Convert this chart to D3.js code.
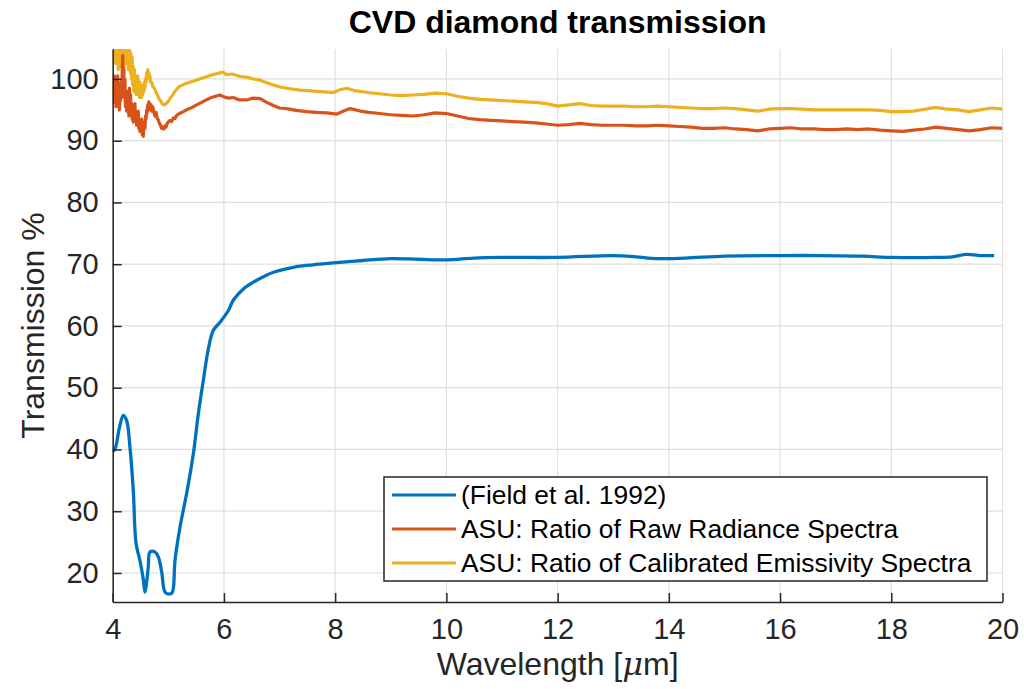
<!DOCTYPE html>
<html>
<head>
<meta charset="utf-8">
<script src="https://cdn.jsdelivr.net/npm/d3@7"></script>
<style>
  body { margin: 0; background: #fff; }
  svg { display: block; font-family: "Liberation Sans", Arial, Helvetica, sans-serif; }
</style>
</head>
<body>
<svg id="chart" width="1024" height="689"></svg>
<script>
// Field et al. 1992 curve
var fieldWl = [4.0, 4.05, 4.12, 4.19, 4.25, 4.31, 4.37, 4.42, 4.49, 4.55, 4.58, 4.61, 4.64, 4.67, 4.76, 4.82, 4.88, 4.94, 5.0, 5.06, 5.09, 5.12, 5.21, 5.33, 5.45, 5.54, 5.63, 5.72, 5.81, 5.93, 6.08, 6.17, 6.35, 6.59, 6.89, 7.25, 7.6, 7.97, 8.5, 9.0, 9.5, 10.0, 10.5, 11.0, 12.0, 13.0, 13.4, 13.8, 14.3, 15.0, 16.0, 16.7, 17.5, 18.0, 18.8, 19.1, 19.35, 19.6, 19.85];
var fieldT = [39.6, 40.3, 43.5, 45.5, 44.7, 40.4, 33.4, 24.8, 22.0, 19.0, 16.9, 18.5, 21.0, 23.4, 23.4, 22.6, 20.2, 16.9, 16.6, 16.7, 17.5, 22.0, 27.4, 32.9, 39.3, 45.8, 51.2, 56.3, 59.3, 60.6, 62.5, 64.2, 66.0, 67.4, 68.7, 69.5, 69.9, 70.2, 70.6, 70.9, 70.8, 70.7, 71.0, 71.1, 71.1, 71.4, 71.2, 70.9, 71.0, 71.3, 71.4, 71.4, 71.3, 71.1, 71.1, 71.2, 71.6, 71.4, 71.4];

// ASU: ratio of raw radiance spectra
var rawWl = [4.00, 4.01, 4.02, 4.03, 4.04, 4.05, 4.06, 4.07, 4.08, 4.09, 4.10, 4.11, 4.12, 4.13, 4.14, 4.15, 4.16, 4.17, 4.18, 4.19, 4.20, 4.21, 4.22, 4.23, 4.24, 4.25, 4.26, 4.27, 4.28, 4.29, 4.30, 4.31, 4.32, 4.33, 4.34, 4.35, 4.36, 4.37, 4.38, 4.39, 4.40, 4.41, 4.42, 4.43, 4.44, 4.45, 4.46, 4.47, 4.48, 4.49, 4.50, 4.51, 4.52, 4.53, 4.54, 4.55, 4.56, 4.57, 4.58, 4.59, 4.60, 4.61, 4.62, 4.63, 4.64, 4.65, 4.66, 4.67, 4.68, 4.69, 4.70, 4.72, 4.74, 4.76, 4.78, 4.80, 4.82, 4.84, 4.86, 4.88, 4.90, 4.92, 4.94, 4.96, 4.98, 5.00, 5.03, 5.06, 5.09, 5.12, 5.15, 5.2, 5.27, 5.35, 5.43, 5.51, 5.6, 5.68, 5.75, 5.85, 5.93, 6.0, 6.08, 6.17, 6.28, 6.41, 6.52, 6.65, 6.77, 6.89, 7.0, 7.13, 7.3, 7.49, 7.65, 7.85, 8.03, 8.15, 8.27, 8.45, 8.6, 8.8, 9.0, 9.2, 9.4, 9.6, 9.8, 10.0, 10.2, 10.4, 10.6, 10.8, 11.0, 11.2, 11.4, 11.6, 11.8, 12.0, 12.2, 12.4, 12.6, 12.8, 13.0, 13.2, 13.4, 13.6, 13.8, 14.0, 14.2, 14.4, 14.6, 14.8, 15.0, 15.2, 15.4, 15.6, 15.8, 16.0, 16.2, 16.4, 16.6, 16.8, 17.0, 17.2, 17.4, 17.6, 17.8, 18.0, 18.2, 18.4, 18.6, 18.8, 19.0, 19.2, 19.4, 19.6, 19.8, 20.0];
var rawT = [96.0, 99.5, 97.5, 100.5, 96.5, 99.0, 95.5, 98.5, 97.0, 100.5, 96.0, 98.0, 95.0, 97.5, 96.5, 99.5, 97.0, 101.0, 103.8, 99.0, 101.5, 97.0, 100.0, 95.5, 97.5, 94.8, 98.0, 95.5, 97.0, 94.0, 98.5, 96.0, 97.5, 94.5, 96.0, 93.5, 95.5, 93.0, 95.0, 94.0, 96.0, 93.5, 94.5, 92.5, 94.0, 93.0, 94.8, 92.0, 93.5, 91.5, 93.0, 92.0, 93.5, 91.0, 92.0, 90.7, 92.5, 93.0, 92.0, 94.0, 93.5, 95.0, 94.5, 95.8, 95.0, 96.3, 95.5, 96.0, 95.0, 95.8, 94.8, 95.5, 94.6, 94.0, 94.6, 93.6, 93.4, 92.8, 92.5, 92.0, 92.2, 91.9, 92.4, 92.2, 92.8, 93.0, 93.3, 93.1, 93.7, 93.6, 94.1, 94.4, 94.7, 95.1, 95.4, 95.8, 96.2, 96.6, 96.9, 97.2, 97.4, 97.1, 96.9, 97.0, 96.6, 96.6, 96.9, 96.8, 96.2, 95.7, 95.3, 95.2, 94.9, 94.7, 94.6, 94.5, 94.3, 94.8, 95.2, 94.8, 94.6, 94.4, 94.2, 94.1, 94.0, 94.2, 94.5, 94.4, 94.0, 93.6, 93.4, 93.3, 93.2, 93.1, 93.0, 92.9, 92.7, 92.5, 92.6, 92.8, 92.6, 92.5, 92.5, 92.5, 92.4, 92.4, 92.5, 92.4, 92.3, 92.2, 92.0, 92.0, 92.1, 91.9, 91.8, 91.6, 91.9, 92.0, 92.1, 91.9, 91.9, 91.8, 91.8, 91.9, 91.8, 91.9, 91.7, 91.6, 91.5, 91.7, 91.9, 92.2, 92.0, 91.8, 91.6, 91.8, 92.1, 92.0];

// ASU: ratio of calibrated emissivity spectra
var calWl = [4.00, 4.01, 4.02, 4.03, 4.04, 4.05, 4.06, 4.07, 4.08, 4.09, 4.10, 4.11, 4.12, 4.13, 4.14, 4.15, 4.16, 4.17, 4.18, 4.19, 4.20, 4.21, 4.22, 4.23, 4.24, 4.25, 4.26, 4.27, 4.28, 4.29, 4.30, 4.31, 4.32, 4.33, 4.34, 4.35, 4.36, 4.37, 4.38, 4.39, 4.40, 4.41, 4.42, 4.43, 4.44, 4.45, 4.46, 4.47, 4.48, 4.49, 4.50, 4.51, 4.52, 4.53, 4.54, 4.55, 4.56, 4.57, 4.58, 4.59, 4.60, 4.61, 4.62, 4.63, 4.64, 4.65, 4.66, 4.67, 4.68, 4.70, 4.72, 4.75, 4.78, 4.80, 4.83, 4.86, 4.89, 4.92, 4.95, 4.98, 5.01, 5.04, 5.08, 5.12, 5.2, 5.3, 5.4, 5.5, 5.6, 5.7, 5.8, 5.9, 5.98, 6.05, 6.15, 6.29, 6.4, 6.53, 6.65, 6.77, 6.9, 7.01, 7.2, 7.37, 7.52, 7.67, 7.82, 7.97, 8.1, 8.21, 8.35, 8.45, 8.6, 8.8, 9.0, 9.2, 9.4, 9.6, 9.8, 10.0, 10.2, 10.4, 10.6, 10.8, 11.0, 11.2, 11.4, 11.6, 11.8, 12.0, 12.2, 12.4, 12.6, 12.8, 13.0, 13.2, 13.4, 13.6, 13.8, 14.0, 14.2, 14.4, 14.6, 14.8, 15.0, 15.2, 15.4, 15.6, 15.8, 16.0, 16.2, 16.4, 16.6, 16.8, 17.0, 17.2, 17.4, 17.6, 17.8, 18.0, 18.2, 18.4, 18.6, 18.8, 19.0, 19.2, 19.4, 19.6, 19.8, 20.0];
var calT = [102.5, 105.5, 103.5, 106, 104, 106, 102.5, 105.5, 103.5, 106, 101.5, 105, 103, 106, 102, 105.5, 103.5, 106, 104, 106, 101, 105, 103, 106, 102.5, 105.5, 103, 106, 101.5, 105, 102.5, 104.5, 101, 104, 100, 103.5, 99, 102, 98, 101.5, 98.5, 100.5, 97.5, 100, 98.5, 100.5, 97.5, 99.5, 97, 99.5, 98, 99, 97, 98.5, 97.5, 99, 98, 99.5, 98.5, 100, 99.5, 101, 100, 101.5, 100.5, 101, 100, 100.5, 99.5, 99.5, 98.8, 98.5, 97.8, 97.5, 96.8, 96.5, 96.0, 95.8, 95.9, 96.2, 96.5, 97.0, 97.4, 98.0, 98.8, 99.2, 99.5, 99.8, 100.1, 100.4, 100.7, 100.9, 101.1, 100.7, 100.8, 100.4, 100.3, 100.0, 99.8, 99.4, 99.0, 98.7, 98.4, 98.2, 98.1, 98.0, 97.9, 97.8, 98.3, 98.5, 98.1, 98.0, 97.8, 97.6, 97.4, 97.3, 97.4, 97.5, 97.7, 97.6, 97.2, 96.9, 96.7, 96.6, 96.5, 96.4, 96.3, 96.2, 96.0, 95.6, 95.8, 96.0, 95.7, 95.6, 95.6, 95.6, 95.5, 95.5, 95.6, 95.5, 95.4, 95.3, 95.2, 95.2, 95.3, 95.2, 95.0, 94.8, 95.1, 95.2, 95.2, 95.1, 95.0, 95.0, 95.0, 95.0, 95.0, 95.0, 94.9, 94.7, 94.7, 94.8, 95.1, 95.4, 95.1, 95.0, 94.7, 95.0, 95.3, 95.1];

var xTicks = [4, 6, 8, 10, 12, 14, 16, 18, 20];
var yTicks = [20, 30, 40, 50, 60, 70, 80, 90, 100];
var seriesNames = ["(Field et al. 1992)", "ASU: Ratio of Raw Radiance Spectra", "ASU: Ratio of Calibrated Emissivity Spectra"];
var seriesColors = ["#0072BD", "#D95319", "#EDB120"];

(function () {
  var svg = d3.select("#chart");
  var m = { left: 112.7, right: 1002.5, top: 49, bottom: 602 };
  var ink = "#262626";

  var x = d3.scaleLinear().domain([4, 20]).range([m.left, m.right]);
  var y = d3.scaleLinear().domain([15.3, 104.85]).range([m.bottom, m.top]);

  svg.append("rect").attr("width", 1024).attr("height", 689).attr("fill", "#fff");

  svg.append("defs").append("clipPath").attr("id", "plotclip")
    .append("rect")
    .attr("x", m.left).attr("y", m.top)
    .attr("width", m.right - m.left).attr("height", m.bottom - m.top);

  // grid
  var grid = svg.append("g").attr("class", "grid");
  grid.selectAll(".gx").data(xTicks).enter().append("line")
    .attr("x1", d => x(d)).attr("x2", d => x(d))
    .attr("y1", m.top).attr("y2", m.bottom)
    .attr("stroke", "#dfdfdf").attr("stroke-width", 1.2);
  grid.selectAll(".gy").data(yTicks).enter().append("line")
    .attr("x1", m.left).attr("x2", m.right)
    .attr("y1", d => y(d)).attr("y2", d => y(d))
    .attr("stroke", "#dfdfdf").attr("stroke-width", 1.2);

  // lines
  var series = [
    { wl: calWl, t: calT, color: seriesColors[2], w: 3.2, curve: d3.curveLinear },
    { wl: rawWl, t: rawT, color: seriesColors[1], w: 3.2, curve: d3.curveLinear },
    { wl: fieldWl, t: fieldT, color: seriesColors[0], w: 3.3, curve: d3.curveCatmullRom }
  ];

  var plot = svg.append("g").attr("clip-path", "url(#plotclip)");
  series.forEach(function (s) {
    var pts = s.wl.map((w, i) => [w, s.t[i]]);
    var line = d3.line().x(d => x(d[0])).y(d => y(d[1])).curve(s.curve);
    plot.append("path")
      .datum(pts)
      .attr("fill", "none")
      .attr("stroke", s.color)
      .attr("stroke-width", s.w)
      .attr("stroke-linejoin", "round")
      .attr("d", line);
  });

  // axes
  var xAxis = svg.append("g")
    .attr("transform", `translate(0,${m.bottom})`)
    .call(d3.axisBottom(x).tickValues(xTicks).tickSizeInner(-9).tickSizeOuter(0).tickPadding(16));
  var yAxis = svg.append("g")
    .attr("transform", `translate(${m.left},0)`)
    .call(d3.axisLeft(y).tickValues(yTicks).tickSizeInner(-9).tickSizeOuter(0).tickPadding(14));

  [xAxis, yAxis].forEach(function (g) {
    g.select(".domain").attr("stroke", ink).attr("stroke-width", 1.5);
    g.selectAll(".tick line").attr("stroke", ink).attr("stroke-width", 1.5);
    g.selectAll(".tick text")
      .attr("fill", ink)
      .style("font-size", "29px")
      .style("font-family", "'Liberation Sans', Arial, sans-serif");
  });

  // title and labels
  svg.append("text")
    .attr("x", (m.left + m.right) / 2).attr("y", 33)
    .attr("text-anchor", "middle")
    .attr("font-weight", "bold")
    .attr("font-size", 32)
    .attr("fill", "#000")
    .text("CVD diamond transmission");

  var xl = svg.append("text")
    .attr("x", (m.left + m.right) / 2).attr("y", 675)
    .attr("text-anchor", "middle")
    .attr("font-size", 32)
    .attr("fill", ink);
  xl.append("tspan").text("Wavelength [");
  xl.append("tspan").attr("font-style", "italic").attr("font-family", "'DejaVu Serif', serif").text("\u03bc");
  xl.append("tspan").text("m]");

  svg.append("text")
    .attr("transform", `translate(44,${(m.top + m.bottom) / 2}) rotate(-90)`)
    .attr("text-anchor", "middle")
    .attr("font-size", 32)
    .attr("fill", ink)
    .text("Transmission %");

  // legend
  var lg = svg.append("g").attr("transform", "translate(384,477)");
  lg.append("rect")
    .attr("width", 603).attr("height", 104)
    .attr("fill", "#fff")
    .attr("stroke", ink).attr("stroke-width", 1.5);

  var rows = lg.selectAll(".row").data(seriesNames).enter().append("g")
    .attr("transform", (d, i) => `translate(0,${18 + i * 34})`);
  rows.append("line")
    .attr("x1", 8).attr("x2", 72)
    .attr("stroke", (d, i) => seriesColors[i])
    .attr("stroke-width", 3.2);
  rows.append("text")
    .attr("x", 77).attr("dy", "0.35em")
    .attr("font-size", 26.4)
    .attr("fill", "#000")
    .text(d => d);
})();
</script>
</body>
</html>
